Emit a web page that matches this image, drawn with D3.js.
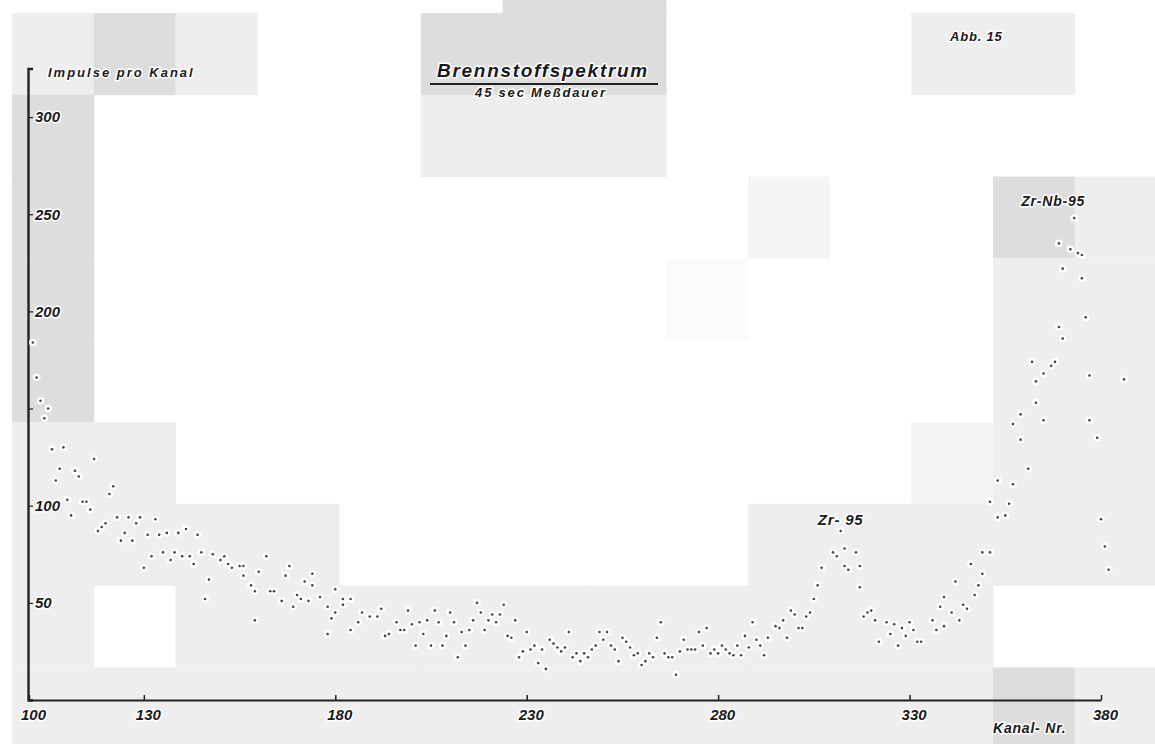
<!DOCTYPE html>
<html>
<head>
<meta charset="utf-8">
<script src="https://cdnjs.cloudflare.com/ajax/libs/d3/7.8.5/d3.min.js"></script>
<style>
body { margin: 0; background: #fff; }
svg text {
    font-family: "Liberation Sans", Arial, sans-serif;
    font-style: italic;
    font-weight: bold;
    fill: #1a1a1a;
    paint-order: stroke;
    stroke: #fff;
    stroke-width: 3px;
    stroke-linejoin: round;
}
</style>
</head>
<body>
<svg id="canvas" width="1155" height="744"></svg>
<script>
// Kanal-Nr. und Impulse pro Kanal
let kanal = [
    101,102,103,104,105,106,107,108,109,110,
    111,112,113,114,115,116,117,118,119,120,
    121,122,123,124,125,126,127,128,129,130,
    131,132,133,134,135,136,137,138,139,140,
    141,142,143,144,145,146,147,148,150,151,
    152,153,155,156,156,158,159,159,160,162,
    163,164,166,167,168,169,170,171,172,173,
    174,174,176,178,178,179,180,180,182,182,
    184,184,186,187,189,191,192,193,194,196,
    197,198,199,200,201,202,203,204,205,206,
    207,208,209,210,211,212,213,214,215,216,
    217,218,219,220,221,222,223,224,225,226,
    227,228,229,230,231,232,233,234,235,236,
    237,238,239,240,241,242,243,244,245,246,
    247,248,249,250,251,252,253,254,255,256,
    257,258,259,260,261,262,263,264,265,266,
    267,268,269,270,271,272,273,274,275,276,
    277,278,279,280,281,282,283,284,285,286,
    287,288,289,290,291,292,293,295,296,297,
    298,299,300,301,302,303,304,305,306,307,
    310,311,312,313,313,314,316,317,317,318,
    319,320,321,322,324,325,326,327,328,329,
    330,331,332,333,336,337,338,339,339,341,
    342,343,344,345,346,347,348,349,349,351,
    351,353,353,355,356,357,357,359,359,361,
    362,363,363,365,365,367,368,369,369,370,
    370,372,373,374,375,375,376,377,377,379,
    380,381,382,386
]
let impulse = [
    184,166,154,145,150,129,113,119,130,103,
    95,118,115,102,102,98,124,87,89,91,
    106,110,94,82,86,94,82,91,94,68,
    85,74,93,85,76,86,72,76,86,74,
    88,74,70,85,76,52,62,75,72,74,
    70,68,69,69,64,59,56,41,66,74,
    56,56,51,64,69,48,54,52,61,51,
    59,65,53,48,34,42,45,57,49,52,
    36,52,40,45,43,43,47,33,34,40,
    36,36,46,39,28,40,34,41,28,46,
    40,28,33,45,40,22,35,28,36,41,
    50,45,36,41,44,40,44,49,33,32,
    41,22,25,35,26,28,19,26,16,31,
    29,27,25,27,35,22,24,20,24,22,
    26,28,35,31,35,28,26,20,32,30,
    27,23,24,18,20,24,22,32,40,24,
    22,22,13,25,31,26,26,26,35,28,
    37,24,26,24,28,26,24,23,28,23,
    33,27,40,31,28,23,32,38,37,41,
    32,46,44,37,37,43,45,52,59,68,
    76,74,87,78,69,67,76,69,58,43,
    45,46,41,30,40,34,39,28,37,33,
    40,36,30,30,41,36,48,38,53,45,
    61,41,49,47,70,54,59,65,76,76,
    102,94,113,95,101,111,142,134,147,119,
    174,164,153,144,168,172,174,192,235,186,
    222,232,248,230,229,217,197,167,144,135,
    93,79,67,165
]

let xTicks = [100, 130, 180, 230, 280, 330, 380]
let yTicks = [50, 100, 150, 200, 250, 300]
let yTickLabels = ['50', '100', '', '200', '250', '300']   // 150 ist im Original nicht beschriftet

// Grauflecken des Scans (Blockraster), . = weiss
let scanRows = [
    '......bb......',
    'aba..bbb...aa.',
    'b....aaa......',
    'b........c..ba',
    'b.......d...aa',
    'b...........aa',
    'aa.........caa',
    'aaaa.....aaaaa',
    'a.aaaaaaaaaa..',
    'aaaaaaaaaaaaba'
]
let scanGrey = { a: '#eeeeee', b: '#dddddd', c: '#f5f5f5', d: '#fbfbfb' }

let canvas = d3.select('#canvas')

let x = d3.scaleLinear().domain([100, 380]).range([29, 1101])
let y = d3.scaleLinear().domain([0, 325]).range([700, 68.5])

// Hintergrund wie im Scan
scanRows.forEach((row, j) => {
    row.split('').forEach((c, i) => {
        if (c === '.') return
        canvas.append('rect')
            .attr('x', 12 + i * 81.75)
            .attr('y', 13 + (j - 1) * 81.8)
            .attr('width', 82.2)
            .attr('height', 82.2)
            .attr('fill', scanGrey[c])
    })
})

// Achsen
let gx = canvas.append('g')
    .attr('transform', 'translate(0,700)')
    .call(d3.axisBottom(x).tickValues(xTicks).tickSizeInner(-5).tickSizeOuter(0).tickPadding(9))
gx.select('.domain').attr('stroke', '#222').attr('stroke-width', 2)
gx.selectAll('.tick line').attr('stroke', '#222').attr('stroke-width', 1.5)
gx.selectAll('.tick text').attr('font-size', 15).attr('dx', 4)

let gy = canvas.append('g')
    .attr('transform', 'translate(28,0)')
    .call(d3.axisRight(y).tickValues(yTicks).tickFormat((d, i) => yTickLabels[i]).tickSize(5).tickPadding(2))
gy.select('.domain').attr('stroke', '#222').attr('stroke-width', 2.4)
gy.selectAll('.tick line').attr('stroke', '#222').attr('stroke-width', 1.2)
gy.selectAll('.tick text').attr('font-size', 15)

// Messpunkte
let punkte = kanal.map((k, i) => ({ k: k, v: impulse[i] }))

canvas.append('g').selectAll('circle')
    .data(punkte)
    .enter()
    .append('circle')
    .attr('cx', d => x(d.k))
    .attr('cy', d => y(d.v))
    .attr('r', 3.8)
    .attr('fill', '#fff')

canvas.append('g').selectAll('circle')
    .data(punkte)
    .enter()
    .append('circle')
    .attr('cx', d => x(d.k))
    .attr('cy', d => y(d.v))
    .attr('r', 1.3)
    .attr('fill', '#444')

// Beschriftung
canvas.append('text')
    .attr('x', 543).attr('y', 77)
    .attr('text-anchor', 'middle')
    .attr('font-size', 19)
    .attr('letter-spacing', 1.7)
    .text('Brennstoffspektrum')

canvas.append('line')
    .attr('x1', 430).attr('x2', 658)
    .attr('y1', 84).attr('y2', 84)
    .attr('stroke', '#222').attr('stroke-width', 2)

canvas.append('text')
    .attr('x', 541).attr('y', 97)
    .attr('text-anchor', 'middle')
    .attr('font-size', 13)
    .attr('letter-spacing', 1.8)
    .text('45 sec Meßdauer')

canvas.append('text')
    .attr('x', 48).attr('y', 77)
    .attr('font-size', 13)
    .attr('letter-spacing', 2)
    .text('Impulse pro Kanal')

canvas.append('text')
    .attr('x', 950).attr('y', 41)
    .attr('font-size', 13)
    .attr('letter-spacing', 0.8)
    .text('Abb. 15')

canvas.append('text')
    .attr('x', x(367.5)).attr('y', y(254))
    .attr('text-anchor', 'middle')
    .attr('font-size', 14)
    .attr('letter-spacing', 0.8)
    .text('Zr-Nb-95')

canvas.append('text')
    .attr('x', x(312)).attr('y', y(90))
    .attr('text-anchor', 'middle')
    .attr('font-size', 15)
    .attr('letter-spacing', 0.8)
    .text('Zr- 95')

canvas.append('text')
    .attr('x', 993).attr('y', 733)
    .attr('font-size', 14)
    .attr('letter-spacing', 0.8)
    .text('Kanal- Nr.')
</script>
</body>
</html>
